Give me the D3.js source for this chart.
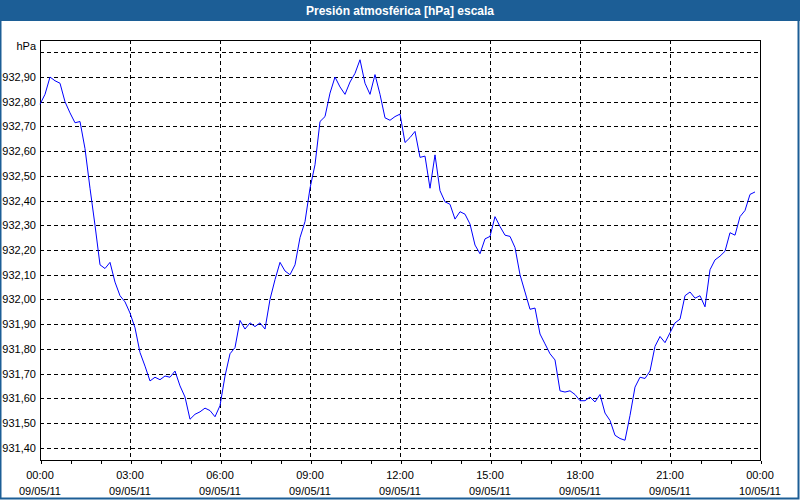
<!DOCTYPE html>
<html>
<head>
<meta charset="utf-8">
<script src="https://cdn.jsdelivr.net/npm/d3@7"></script>
<style>
  html, body { margin: 0; padding: 0; background: #fff; }
  svg { display: block; font-family: "Liberation Sans", Arial, sans-serif; }
</style>
</head>
<body>
<svg id="chart" width="800" height="500"></svg>
<script>
// ---- data ----
const chartTitle = "Presión atmosférica [hPa] escala";
const unitLabel = "hPa";
const startTime = "2011-05-09T00:00:00";
const endTime = "2011-05-10T00:00:00";
const sampleMinutes = 10;
const pressure = [
  932.79, 932.83, 932.90, 932.885, 932.875, 932.80, 932.755, 932.715, 932.72, 932.61,
  932.45, 932.30, 932.14, 932.125, 932.15, 932.07, 932.015, 931.99, 931.945, 931.885,
  931.785, 931.73, 931.67, 931.685, 931.675, 931.69, 931.685, 931.71, 931.65, 931.605,
  931.515, 931.535, 931.545, 931.56, 931.55, 931.525, 931.57, 931.69, 931.78, 931.805,
  931.915, 931.88, 931.905, 931.89, 931.905, 931.88, 932.00, 932.08, 932.15, 932.115,
  932.10, 932.14, 932.25, 932.315, 932.45, 932.545, 932.72, 932.74, 932.835, 932.90,
  932.86, 932.83, 932.88, 932.915, 932.97, 932.875, 932.83, 932.91, 932.83, 932.735,
  932.725, 932.74, 932.75, 932.635, 932.655, 932.68, 932.575, 932.58, 932.45, 932.585,
  932.44, 932.395, 932.385, 932.325, 932.355, 932.345, 932.305, 932.22, 932.185, 932.245,
  932.255, 932.335, 932.295, 932.26, 932.255, 932.21, 932.10, 932.03, 931.96, 931.965,
  931.86, 931.82, 931.78, 931.755, 931.63, 931.625, 931.63, 931.615, 931.59, 931.59,
  931.605, 931.585, 931.615, 931.54, 931.51, 931.45, 931.437, 931.43, 931.53, 931.645,
  931.685, 931.68, 931.71, 931.81, 931.85, 931.825, 931.865, 931.905, 931.92, 932.015,
  932.03, 932.005, 932.015, 931.97, 932.12, 932.16, 932.175, 932.195, 932.27, 932.26,
  932.335, 932.36, 932.425, 932.435
];
const yDomain = [931.35, 933.05];
const yGridValues = [931.4, 931.5, 931.6, 931.7, 931.8, 931.9, 932.0, 932.1, 932.2, 932.3, 932.4, 932.5, 932.6, 932.7, 932.8, 932.9, 933.0];
const yLabelValues = [931.4, 931.5, 931.6, 931.7, 931.8, 931.9, 932.0, 932.1, 932.2, 932.3, 932.4, 932.5, 932.6, 932.7, 932.8, 932.9];

// ---- layout ----
const W = 800, H = 500;
const plot = { left: 40, top: 40, right: 760, bottom: 460 };
const frameColor = "#1c5e96";

const svg = d3.select("#chart");
const t0 = new Date(startTime), t1 = new Date(endTime);
const data = pressure.map((v, i) => ({ t: new Date(t0.getTime() + i * sampleMinutes * 60000), v }));

const x = d3.scaleTime().domain([t0, t1]).range([plot.left, plot.right]);
const y = d3.scaleLinear().domain(yDomain).range([plot.bottom, plot.top]);

// window background + frame
svg.append("rect").attr("x", 0).attr("y", 0).attr("width", W).attr("height", H).attr("fill", "#fff");
svg.append("rect").attr("x", 0.5).attr("y", 0.5).attr("width", W - 2).attr("height", H - 2)
  .attr("fill", "none").attr("stroke", frameColor).attr("stroke-width", 2);
svg.append("rect").attr("x", 0).attr("y", 0).attr("width", W).attr("height", 21).attr("fill", frameColor);
svg.append("text").attr("x", W / 2).attr("y", 15).attr("text-anchor", "middle")
  .attr("fill", "#fff").attr("font-weight", "bold").attr("font-size", 12).text(chartTitle);

// grid
const dash = "4,3";
const g = svg.append("g").attr("shape-rendering", "crispEdges");
g.selectAll("line.hgrid").data(yGridValues).join("line").attr("class", "hgrid")
  .attr("x1", plot.left).attr("x2", plot.right)
  .attr("y1", d => Math.round(y(d)) + 0.5).attr("y2", d => Math.round(y(d)) + 0.5)
  .attr("stroke", "#000").attr("stroke-dasharray", dash);
const majorTimes = d3.timeHour.every(3).range(t0, t1).filter(d => d > t0);
g.selectAll("line.vgrid").data(majorTimes).join("line").attr("class", "vgrid")
  .attr("x1", d => Math.round(x(d)) + 0.5).attr("x2", d => Math.round(x(d)) + 0.5)
  .attr("y1", plot.top).attr("y2", plot.bottom)
  .attr("stroke", "#000").attr("stroke-dasharray", dash);

// plot frame
g.append("rect").attr("x", plot.left + 0.5).attr("y", plot.top + 0.5)
  .attr("width", plot.right - plot.left).attr("height", plot.bottom - plot.top)
  .attr("fill", "none").attr("stroke", "#000");

// x axis
const xAxis = d3.axisBottom(x).ticks(d3.timeHour.every(1)).tickSize(3).tickFormat("");
const xa = svg.append("g").attr("transform", `translate(0.5,${plot.bottom + 0.5})`).call(xAxis);
xa.select(".domain").remove();
xa.selectAll("line").attr("shape-rendering", "crispEdges");
const labelTimes = d3.timeHour.every(3).range(t0, d3.timeMinute.offset(t1, 1));
const fmtT = d3.timeFormat("%H:%M"), fmtD = d3.timeFormat("%d/%m/%y");
const xl = svg.append("g").attr("font-size", 11).attr("fill", "#000").attr("text-anchor", "middle");
xl.selectAll("text.t").data(labelTimes).join("text").attr("class", "t")
  .attr("x", d => x(d)).attr("y", 479).text(fmtT);
xl.selectAll("text.d").data(labelTimes).join("text").attr("class", "d")
  .attr("x", d => x(d)).attr("y", 495).text(fmtD);

// y labels
const fmtY = v => d3.format(".2f")(v).replace(".", ",");
const yl = svg.append("g").attr("font-size", 11).attr("fill", "#000").attr("text-anchor", "end");
yl.selectAll("text").data(yLabelValues).join("text")
  .attr("x", 36).attr("y", d => y(d) + 4).text(fmtY);
yl.append("text").attr("x", 36).attr("y", 50).text(unitLabel);

// line
const line = d3.line().x(d => x(d.t)).y(d => y(d.v));
svg.append("path").datum(data).attr("d", line)
  .attr("fill", "none").attr("stroke", "#0000ff").attr("stroke-width", 1);
</script>
</body>
</html>
